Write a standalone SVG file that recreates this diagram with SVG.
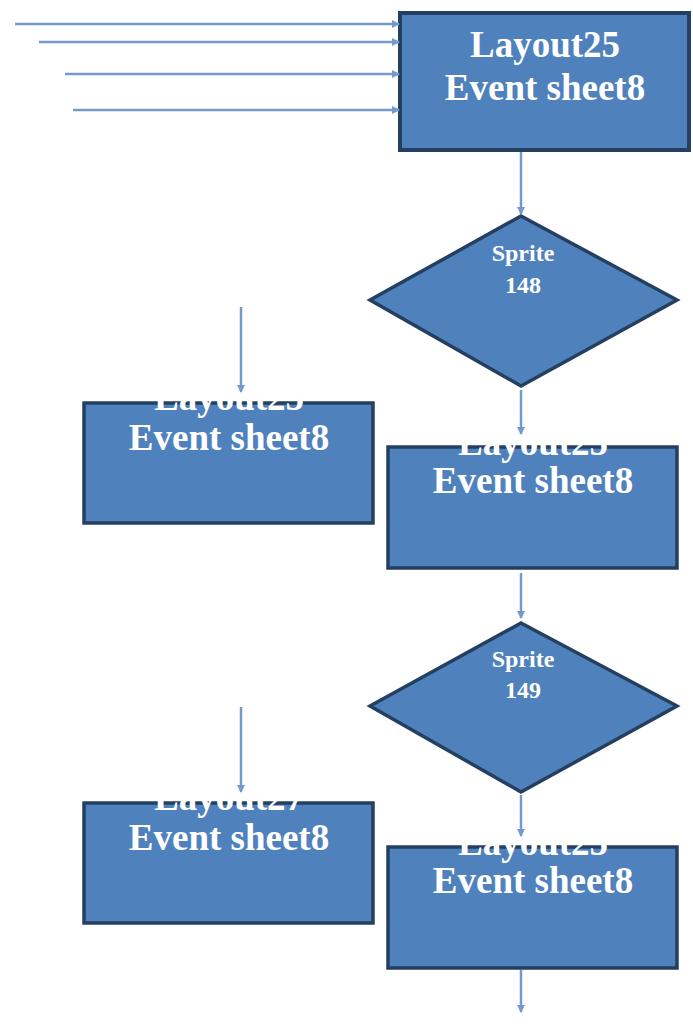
<svg xmlns="http://www.w3.org/2000/svg" width="693" height="1024" viewBox="0 0 693 1024">
<style>
.box{fill:#4F81BD;stroke:#243F60;stroke-width:3.5}
.lbl{font-family:"Liberation Serif","Times New Roman",serif;font-weight:bold;fill:#FFFFFF;text-anchor:middle}
.big{font-size:37px}
.sm{font-size:24px}
.con{stroke:#729ACD;stroke-width:2.5;fill:none;marker-end:url(#ah)}
</style>
<defs>
<marker id="ah" viewBox="0 0 8 8" refX="7" refY="4" markerWidth="3.2" markerHeight="3.2" orient="auto" markerUnits="strokeWidth">
<path d="M0,0 L8,4 L0,8 Z" fill="#729ACD"/>
</marker>
</defs>
<rect width="693" height="1024" fill="#FFFFFF"/>
<g id="n1">
<rect class="box" x="400" y="13" width="289" height="137" style="stroke-width:4"/>
<text class="lbl big" x="545" y="57">Layout25</text>
<text class="lbl big" x="545" y="100">Event sheet8</text>
</g>
<g id="d1">
<polygon class="box" points="521,216 677,300 521,386 370,300"/>
<text class="lbl sm" x="523" y="261">Sprite</text>
<text class="lbl sm" x="523" y="293">148</text>
</g>
<g id="n2">
<rect class="box" x="84" y="403" width="289" height="120"/>
<text class="lbl big" x="229" y="410">Layout25</text>
<text class="lbl big" x="229" y="450">Event sheet8</text>
</g>
<g id="n3">
<rect class="box" x="388" y="447" width="289" height="121"/>
<text class="lbl big" x="533" y="455">Layout25</text>
<text class="lbl big" x="533" y="493">Event sheet8</text>
</g>
<g id="d2">
<polygon class="box" points="521,623 677,706 521,792 370,706"/>
<text class="lbl sm" x="523" y="667">Sprite</text>
<text class="lbl sm" x="523" y="698">149</text>
</g>
<g id="n4">
<rect class="box" x="84" y="803" width="289" height="120"/>
<text class="lbl big" x="229" y="810">Layout27</text>
<text class="lbl big" x="229" y="850">Event sheet8</text>
</g>
<g id="n5">
<rect class="box" x="388" y="847" width="289" height="121"/>
<text class="lbl big" x="533" y="855">Layout25</text>
<text class="lbl big" x="533" y="893">Event sheet8</text>
</g>
<g id="connectors">
<line class="con" x1="15" y1="24" x2="399" y2="24"/>
<line class="con" x1="39" y1="42" x2="399" y2="42"/>
<line class="con" x1="65" y1="74" x2="399" y2="74"/>
<line class="con" x1="73" y1="110" x2="399" y2="110"/>
<line class="con" x1="521" y1="152" x2="521" y2="214"/>
<line class="con" x1="521" y1="390" x2="521" y2="434"/>
<line class="con" x1="241" y1="307" x2="241" y2="392"/>
<line class="con" x1="521" y1="573" x2="521" y2="618"/>
<line class="con" x1="521" y1="795" x2="521" y2="836"/>
<line class="con" x1="241" y1="707" x2="241" y2="792"/>
<line class="con" x1="521" y1="970" x2="521" y2="1012"/>
</g>
</svg>
